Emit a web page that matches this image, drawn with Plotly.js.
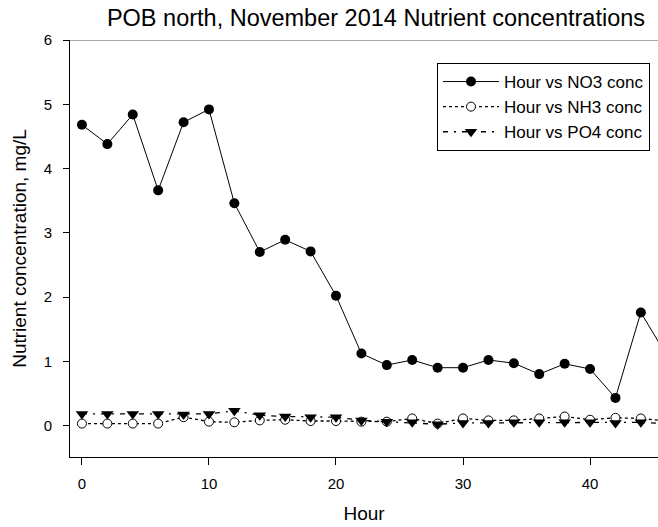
<!DOCTYPE html>
<html>
<head>
<meta charset="utf-8">
<script src="https://cdn.plot.ly/plotly-3.0.1.min.js"></script>
<style>html,body{margin:0;padding:0;background:#fff;}#chart{width:658px;height:527px;}</style>
</head>
<body>
<div id="chart"></div>
<script>
var hours = [0,2,4,6,8,10,12,14,16,18,20,22,24,26,28,30,32,34,36,38,40,42,44,46];
var no3 = [4.68,4.38,4.84,3.66,4.72,4.92,3.46,2.70,2.89,2.71,2.02,1.12,0.94,1.02,0.90,0.90,1.02,0.97,0.80,0.96,0.88,0.43,1.76,1.10];
var nh3 = [0.03,0.03,0.03,0.03,0.13,0.06,0.05,0.08,0.09,0.07,0.07,0.06,0.06,0.11,0.03,0.11,0.08,0.08,0.11,0.14,0.09,0.12,0.11,0.07];
var po4 = [0.18,0.18,0.18,0.18,0.17,0.18,0.23,0.16,0.14,0.13,0.13,0.08,0.06,0.05,0.02,0.04,0.04,0.05,0.05,0.05,0.05,0.04,0.05,0.03];
var names = ["Hour vs NO3 conc","Hour vs NH3 conc","Hour vs PO4 conc"];
var titleText = "POB north, November 2014 Nutrient concentrations";
var xTitle = "Hour";
var yTitle = "Nutrient concentration, mg/L";
var xTicks = [0,10,20,30,40];
var yTicks = [0,1,2,3,4,5,6];

var FONT = "Arial, 'Liberation Sans', sans-serif";
var traces = [
  {x: hours, y: no3, name: names[0], type: "scatter", mode: "lines+markers", legendgroup: "a",
   line: {color: "#000", width: 1}, marker: {symbol: "circle", size: 10, color: "#000"}},
  {x: hours, y: nh3, name: names[1], type: "scatter", mode: "lines+markers", legendgroup: "b",
   line: {color: "#000", width: 1.3, dash: "dot"}, marker: {symbol: "circle", size: 9, color: "#fff", line: {color: "#000", width: 1}}},
  {x: hours, y: po4, name: names[2], type: "scatter", mode: "lines+markers", legendgroup: "c",
   line: {color: "#000", width: 1.3, dash: "5px,6px,2px,6px"}, marker: {symbol: "triangle-down", size: 11, color: "#000"}}
];
var layout = {
  width: 658, height: 527,
  margin: {l: 70, r: 0, t: 40, b: 70, pad: 0},
  paper_bgcolor: "#fff", plot_bgcolor: "#fff",
  font: {family: FONT, color: "#000", size: 15},
  title: {text: titleText, font: {family: FONT, size: 23.5, color: "#000"}, x: (376-70)/588, xref: "paper", xanchor: "center", y: 0.966, yanchor: "middle"},
  showlegend: true,
  legend: {x: (437-70)/588, y: (457-63)/417, xanchor: "left", yanchor: "top", bgcolor: "#fff", bordercolor: "#000", borderwidth: 1,
    font: {family: FONT, size: 17, color: "#000"}, tracegroupgap: 0, itemwidth: 56},
  xaxis: {range: [-0.94, 45.35], tickvals: xTicks, ticktext: xTicks.map(String), ticks: "outside", ticklen: 7, tickcolor: "#000",
    showline: true, linecolor: "#000", linewidth: 1, showgrid: false, zeroline: false, ticklabelstandoff: 6,
    tickfont: {family: FONT, size: 15}, title: {text: xTitle, font: {family: FONT, size: 19}, standoff: 15}},
  yaxis: {range: [-0.49, 6], tickvals: yTicks, ticktext: yTicks.map(String), ticks: "outside", ticklen: 6, tickcolor: "#000",
    showline: true, linecolor: "#000", linewidth: 1, showgrid: false, zeroline: false, ticklabelstandoff: 8,
    tickfont: {family: FONT, size: 15}, title: {text: yTitle, font: {family: FONT, size: 19}, standoff: 12}},
  shapes: [{type: "line", xref: "paper", yref: "y", x0: 0, x1: 1, y0: 6, y1: 6, line: {color: "#555", width: 1}}]
};
Plotly.newPlot("chart", traces, layout, {staticPlot: true, displayModeBar: false});
</script>
</body>
</html>
